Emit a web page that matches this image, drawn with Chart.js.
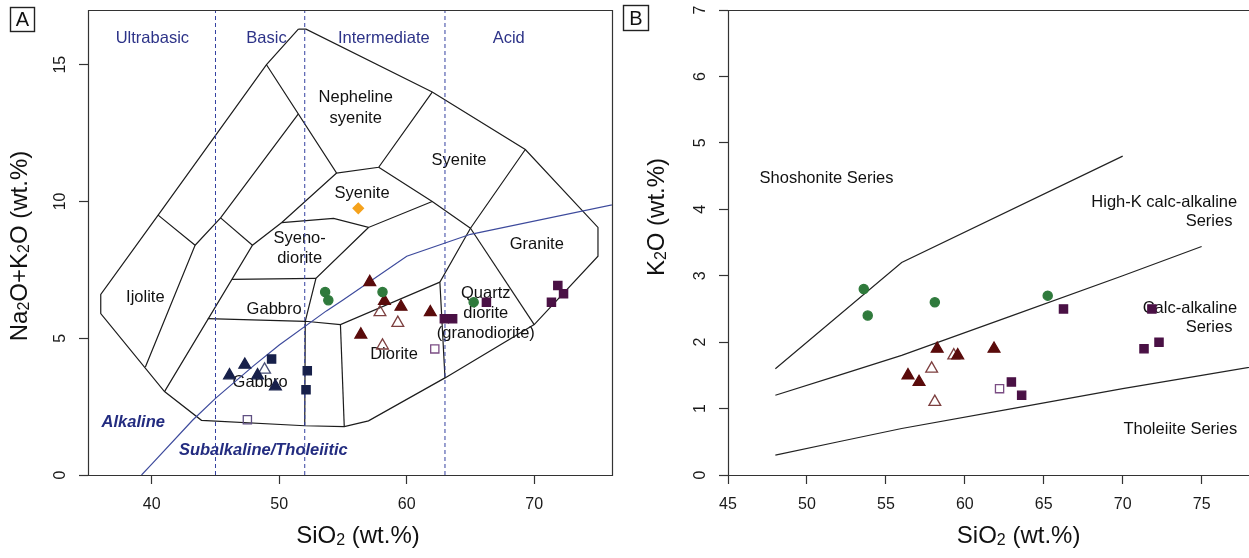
<!DOCTYPE html>
<html>
<head>
<meta charset="utf-8">
<script src="https://cdn.jsdelivr.net/npm/chart.js@4.4.1/dist/chart.umd.min.js"></script>
<style>
  html, body { margin: 0; padding: 0; background: #fff; }
  #wrap { position: relative; width: 1249px; height: 558px; overflow: hidden; }
  canvas { position: absolute; top: 0; }
  #tas { left: 0; }
  #k2o { left: 620px; }
</style>
</head>
<body>
<div id="wrap">
  <canvas id="tas" width="620" height="558"></canvas>
  <canvas id="k2o" width="629" height="558"></canvas>
</div>
<script>
const FONT = "'Liberation Sans', Arial, Helvetica, sans-serif";

// ---------- panel A: total alkali vs silica (plutonic fields) ----------
const tasXTicks = [40, 50, 60, 70];
const tasYTicks = [0, 5, 10, 15];

// field boundaries as [SiO2, Na2O+K2O]
const tasOutline = [[51.5, 16.3], [52.1, 16.3], [62.0, 14.0], [69.3, 11.9], [75.0, 9.05], [75.0, 8.0],
  [70.0, 5.5], [63.0, 3.55], [57.0, 1.98], [55.1, 1.77], [52.0, 1.8], [43.9, 2.0], [41.0, 3.05],
  [36.0, 5.9], [36.0, 6.6], [40.5, 9.5], [49.0, 15.0], [51.5, 16.3]];
const ijoliteEdge = [[40.5, 9.5], [43.4, 8.4], [39.5, 3.95]];
const foidGabbroEdge = [[51.5, 13.2], [45.4, 9.4], [43.4, 8.4]];
const foidMonzoEdge = [[45.4, 9.4], [47.9, 8.4]];
const nephSyeniteEdge = [[49.0, 15.0], [54.5, 11.04], [57.8, 11.25], [62.0, 14.0]];
const foidLimit = [[54.5, 11.04], [50.2, 9.23], [47.9, 8.4], [41.0, 3.05]];
const syenoDioriteTop = [[50.2, 9.23], [54.26, 9.38], [57.0, 9.05], [62.0, 10.0]];
const syeniteBase = [[57.8, 11.25], [62.0, 10.0], [65.0, 9.02]];
const syenoDioriteSide = [[57.0, 9.05], [52.88, 7.19], [52.04, 5.62], [52.0, 1.8]];
const gabbroUpperTop = [[46.3, 7.15], [52.88, 7.19]];
const gabbroUpperBase = [[44.4, 5.72], [52.04, 5.62], [54.8, 5.5], [62.6, 7.05]];
const dioriteSide = [[54.8, 5.5], [55.1, 1.77]];
const graniteSide = [[69.3, 11.9], [65.0, 9.02], [62.6, 7.05], [63.0, 3.55]];
const graniteBase = [[65.0, 9.02], [70.0, 5.5]];

const silicaDivisions = [45, 52, 63];
const alkalineDivide = [[39.2, 0], [40, 0.4], [43.2, 2], [45, 2.8], [48, 4], [50, 4.75],
  [53.7, 6], [55, 6.4], [60, 8], [65, 8.8], [77.4, 10]];

// samples: SiO2, Na2O+K2O and K2O (wt.%)
const gabbroTriSi = [46.1, 47.3, 48.3, 49.7];
const gabbroTriAlk = [3.64, 4.03, 3.64, 3.24];
const gabbroSqSi = [49.4, 52.2, 52.1];
const gabbroSqAlk = [4.24, 3.81, 3.12];
const gabbroOpenTriSi = [48.85];
const gabbroOpenTriAlk = [3.85];
const gabbroOpenSqSi = [47.5];
const gabbroOpenSqAlk = [2.02];

const dykeSi = [53.6, 53.85, 58.1, 65.25];
const dykeAlk = [6.69, 6.39, 6.69, 6.32];
const dykeK2O = [2.8, 2.4, 2.6, 2.7];

const dioriteSi = [56.4, 57.1, 58.25, 59.55, 61.85];
const dioriteAlk = [5.13, 7.05, 6.36, 6.15, 5.95];
const dioriteK2O = [1.5, 1.4, 1.9, 1.8, 1.9];

const dioriteOpenSi = [57.9, 58.1, 59.3];
const dioriteOpenAlk = [5.95, 4.73, 5.56];
const dioriteOpenK2O = [1.6, 1.1, 1.8];

const graniteSi = [62.95, 63.6, 66.25, 71.35, 71.85, 72.3];
const graniteAlk = [5.71, 5.71, 6.32, 6.32, 6.93, 6.63];
const graniteK2O = [1.4, 1.2, 2.5, 1.9, 2.5, 2.0];

const graniteOpenSi = [62.2];
const graniteOpenAlk = [4.61];
const graniteOpenK2O = [1.3];

const syeniteSi = [56.2];
const syeniteAlk = [9.75];

// text inside panel A: [text, SiO2, alkali]
const rockNames = [
  ['Nepheline', 56.0, 13.8], ['syenite', 56.0, 13.05],
  ['Syenite', 64.1, 11.5], ['Syenite', 56.5, 10.3],
  ['Syeno-', 51.6, 8.65], ['diorite', 51.6, 7.9],
  ['Ijolite', 39.5, 6.5], ['Gabbro', 49.6, 6.07], ['Gabbro', 48.5, 3.4],
  ['Diorite', 59.0, 4.42], ['Granite', 70.2, 8.43],
  ['Quartz', 66.2, 6.64], ['diorite', 66.2, 5.9], ['(granodiorite)', 66.2, 5.16]
];
const silicaClasses = [['Ultrabasic', 40.05, 15.95], ['Basic', 49.0, 15.95],
  ['Intermediate', 58.2, 15.95], ['Acid', 68.0, 15.95]];
const seriesNames = [['Alkaline', 38.55, 1.92], ['Subalkaline/Tholeiitic', 48.75, 0.89]];

// ---------- panel B: K2O vs SiO2 ----------
const kXTicks = [45, 50, 55, 60, 65, 70, 75];
const kYTicks = [0, 1, 2, 3, 4, 5, 6, 7];
const shoshoniteDivide = [[48, 1.6], [56, 3.2], [70, 4.8]];
const highKDivide = [[48, 1.2], [52, 1.5], [56, 1.8], [63, 2.4], [70, 3.0], [75, 3.44]];
const tholeiiteDivide = [[48, 0.3], [52, 0.5], [56, 0.7], [63, 1.0], [70, 1.3], [75, 1.5], [80, 1.7]];
const kSeriesLeft = [['Shoshonite Series', 47.0, 4.46]];
const kSeriesRight = [['High-K calc-alkaline', 77.25, 4.11], ['Series', 76.95, 3.81],
  ['Calc-alkaline', 77.25, 2.51], ['Series', 76.95, 2.22], ['Tholeiite Series', 77.25, 0.69]];

// ---------- helpers ----------
const NAVY = '#2d3388';
const EDGE = '#1c1c1c';
const HOLLOW = 'rgba(255,255,255,0)';

function line(pts, color, width, dash) {
  return {
    data: pts.map(([x, y]) => ({ x, y })), showLine: true, borderColor: color,
    borderWidth: width, borderDash: dash || [], pointRadius: 0, pointHoverRadius: 0,
    fill: false, tension: 0, order: 10
  };
}
function marks(xs, ys, style, fill, edge, r) {
  return {
    data: xs.map((x, i) => ({ x, y: ys[i] })), pointStyle: style, pointRadius: r,
    pointHoverRadius: r, backgroundColor: fill, borderColor: edge, borderWidth: 1.3, order: 0
  };
}
function note(list, font, color, align) {
  return list.map(([text, x, y]) => ({ text, x, y, font, color, align: align || 'center' }));
}

function drawRich(ctx, parts, x, y, rot) {
  const big = '24px ' + FONT, small = '16px ' + FONT;
  let w = 0;
  parts.forEach(([t, sub]) => { ctx.font = sub ? small : big; w += ctx.measureText(t).width; });
  ctx.save();
  ctx.translate(x, y);
  ctx.rotate(rot);
  ctx.fillStyle = '#111';
  ctx.textAlign = 'left';
  ctx.textBaseline = 'alphabetic';
  let cx = -w / 2;
  parts.forEach(([t, sub]) => {
    ctx.font = sub ? small : big;
    ctx.fillText(t, cx, sub ? 8 : 6);
    cx += ctx.measureText(t).width;
  });
  ctx.restore();
}

function makeSheet(cfg) {
  return {
    id: 'sheet',
    beforeDatasetsDraw(chart) {
      const ctx = chart.ctx, xs = chart.scales.x, ys = chart.scales.y;
      ctx.save();
      cfg.notes.forEach(n => {
        ctx.font = n.font;
        ctx.fillStyle = n.color;
        ctx.textAlign = n.align;
        ctx.textBaseline = 'middle';
        ctx.fillText(n.text, xs.getPixelForValue(n.x), ys.getPixelForValue(n.y));
      });
      ctx.restore();
    },
    afterDraw(chart) {
      const ctx = chart.ctx, a = chart.chartArea, xs = chart.scales.x, ys = chart.scales.y;
      ctx.save();
      // box around the plot region (panel B runs off the right edge)
      ctx.strokeStyle = '#333';
      ctx.lineWidth = 1.2;
      const l = a.left + 0.5, t = a.top + 0.5, r = a.right + 0.5, b = a.bottom + 0.5;
      ctx.beginPath();
      ctx.moveTo(r, t); ctx.lineTo(l, t); ctx.lineTo(l, b); ctx.lineTo(r, b);
      if (!cfg.openRight) ctx.closePath();
      ctx.stroke();

      ctx.fillStyle = '#1a1a1a';
      ctx.font = '16px ' + FONT;
      ctx.textAlign = 'center';
      ctx.textBaseline = 'middle';
      xs.ticks.forEach(tk => ctx.fillText(String(tk.value), xs.getPixelForValue(tk.value), a.bottom + 30));
      ys.ticks.forEach(tk => {
        ctx.save();
        ctx.translate(a.left - 27, ys.getPixelForValue(tk.value));
        ctx.rotate(-Math.PI / 2);
        ctx.fillText(String(tk.value), 0, 0);
        ctx.restore();
      });

      drawRich(ctx, cfg.xTitle, cfg.xTitlePos[0], cfg.xTitlePos[1], 0);
      drawRich(ctx, cfg.yTitle, cfg.yTitlePos[0], cfg.yTitlePos[1], -Math.PI / 2);

      const [tx, ty, ts] = cfg.tagBox;
      ctx.strokeStyle = '#222';
      ctx.lineWidth = 1.4;
      ctx.strokeRect(tx + 0.5, ty + 0.5, ts, ts);
      ctx.fillStyle = '#111';
      ctx.font = '20px ' + FONT;
      ctx.textAlign = 'center';
      ctx.textBaseline = 'middle';
      ctx.fillText(cfg.tag, tx + ts / 2 + 0.5, ty + ts / 2 + 1.5);
      ctx.restore();
    }
  };
}

function axes(xMin, xMax, xTicks, yMax, yTicks, yWidth) {
  const grid = { drawOnChartArea: false, drawTicks: true, tickLength: 9, tickColor: '#333', tickWidth: 1.2 };
  return {
    x: {
      type: 'linear', min: xMin, max: xMax,
      afterBuildTicks: s => { s.ticks = xTicks.map(v => ({ value: v })); },
      afterFit: s => { s.height = 83; },
      ticks: { display: false }, grid, border: { display: false }
    },
    y: {
      type: 'linear', min: 0, max: yMax,
      afterBuildTicks: s => { s.ticks = yTicks.map(v => ({ value: v })); },
      afterFit: s => { s.width = yWidth; },
      ticks: { display: false }, grid, border: { display: false }
    }
  };
}

const common = {
  responsive: false, animation: false, devicePixelRatio: 1,
  plugins: { legend: { display: false }, tooltip: { enabled: false } },
  events: []
};

// ---------- panel A chart ----------
const tasFields = [tasOutline, ijoliteEdge, foidGabbroEdge, foidMonzoEdge, nephSyeniteEdge, foidLimit,
  syenoDioriteTop, syeniteBase, syenoDioriteSide, gabbroUpperTop, gabbroUpperBase, dioriteSide,
  graniteSide, graniteBase];

new Chart(document.getElementById('tas'), {
  type: 'scatter',
  data: {
    datasets: [
      marks(syeniteSi, syeniteAlk, 'rectRot', '#f5a21c', '#f5a21c', 5.2),
      marks(dykeSi, dykeAlk, 'circle', '#2f7a3c', '#2f7a3c', 4.6),
      marks(graniteSi, graniteAlk, 'rect', '#4a1145', '#4a1145', 5.8),
      marks(graniteOpenSi, graniteOpenAlk, 'rect', HOLLOW, '#7b4d84', 5.8),
      marks(dioriteSi, dioriteAlk, 'triangle', '#5a0b0b', '#5a0b0b', 6.8),
      marks(dioriteOpenSi, dioriteOpenAlk, 'triangle', HOLLOW, '#7d3f3f', 6.8),
      marks(gabbroSqSi, gabbroSqAlk, 'rect', '#17204a', '#17204a', 5.8),
      marks(gabbroTriSi, gabbroTriAlk, 'triangle', '#17204a', '#17204a', 6.8),
      marks(gabbroOpenTriSi, gabbroOpenTriAlk, 'triangle', HOLLOW, '#4a5078', 6.8),
      marks(gabbroOpenSqSi, gabbroOpenSqAlk, 'rect', HOLLOW, '#5f4f82', 5.8),
      line(alkalineDivide, '#3d4a9c', 1.2),
      ...silicaDivisions.map(s => line([[s, 0], [s, 17]], '#3340a0', 1, [4, 3])),
      ...tasFields.map(f => line(f, EDGE, 1.2))
    ]
  },
  options: {
    ...common,
    layout: { autoPadding: false, padding: { left: 0, top: 10, right: 8, bottom: 0 } },
    scales: axes(35, 76.1, tasXTicks, 17, tasYTicks, 88)
  },
  plugins: [makeSheet({
    notes: [
      ...note(rockNames, '16.5px ' + FONT, '#111'),
      ...note(silicaClasses, '16.5px ' + FONT, NAVY),
      ...note(seriesNames, 'italic bold 16.5px ' + FONT, '#232c80')
    ],
    xTitle: [['SiO'], ['2', true], [' (wt.%)']], xTitlePos: [358, 537],
    yTitle: [['Na'], ['2', true], ['O+K'], ['2', true], ['O (wt.%)']], yTitlePos: [21, 246],
    tag: 'A', tagBox: [10, 7, 24]
  })]
});

// ---------- panel B chart ----------
new Chart(document.getElementById('k2o'), {
  type: 'scatter',
  data: {
    datasets: [
      marks(dykeSi, dykeK2O, 'circle', '#2f7a3c', '#2f7a3c', 4.6),
      marks(graniteSi, graniteK2O, 'rect', '#4a1145', '#4a1145', 5.8),
      marks(graniteOpenSi, graniteOpenK2O, 'rect', HOLLOW, '#7b4d84', 5.8),
      marks(dioriteSi, dioriteK2O, 'triangle', '#5a0b0b', '#5a0b0b', 6.8),
      marks(dioriteOpenSi, dioriteOpenK2O, 'triangle', HOLLOW, '#7d3f3f', 6.8),
      line(shoshoniteDivide, '#222', 1.2),
      line(highKDivide, '#222', 1.2),
      line(tholeiiteDivide, '#222', 1.2)
    ]
  },
  options: {
    ...common,
    layout: { autoPadding: false, padding: { left: 0, top: 10, right: 0, bottom: 0 } },
    scales: axes(45, 78, kXTicks, 7, kYTicks, 108)
  },
  plugins: [makeSheet({
    notes: [
      ...note(kSeriesLeft, '16.5px ' + FONT, '#111', 'left'),
      ...note(kSeriesRight, '16.5px ' + FONT, '#111', 'right')
    ],
    xTitle: [['SiO'], ['2', true], [' (wt.%)']], xTitlePos: [398.6, 537],
    yTitle: [['K'], ['2', true], ['O (wt.%)']], yTitlePos: [38, 217],
    tag: 'B', tagBox: [3, 5, 25], openRight: true
  })]
});
</script>
</body>
</html>
